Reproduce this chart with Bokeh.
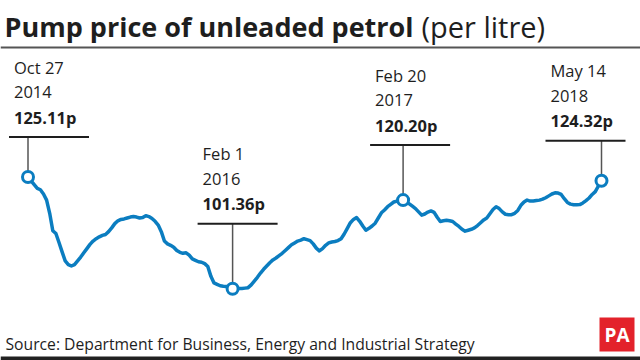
import pandas as pd
from bokeh.plotting import figure
from bokeh.models import Range1d, Label, Span, ColumnDataSource
from bokeh.embed import file_html
from bokeh.resources import INLINE

# ---- data: weekly pump price of unleaded petrol (pence per litre) ----
start_date = "2014-10-27"
prices_2014 = [125.11, 124.3, 123.5, 122.7, 122.4, 121.5, 120.2, 117.4, 113.7, 113.1]
prices_2015 = [111.2, 109.2, 107.3, 106.5, 106.2, 106.5, 107.3, 108.1, 109.0, 109.9,
               110.8, 111.5, 112.0, 112.4, 112.7, 112.9, 113.5, 114.3, 115.2, 115.8,
               116.1, 116.2, 116.4, 116.6, 116.7, 116.6, 116.4, 116.5, 116.9, 116.7,
               116.3, 115.7, 114.9, 113.5, 111.5, 110.9, 110.6, 110.2, 109.5, 109.1,
               108.9, 109.0, 108.5, 107.7, 107.4, 107.1, 107.0, 106.7, 106.1, 104.0,
               102.6, 102.3]
prices_2016 = [102.0, 101.9, 101.85, 101.6, 101.36, 101.4, 101.4, 101.4, 101.5, 101.6,
               102.2, 103.0, 103.8, 104.7, 105.5, 106.2, 106.9, 107.5, 107.9, 108.4,
               108.9, 109.5, 110.1, 110.7, 111.1, 111.5, 111.7, 112.0, 111.8, 111.6,
               110.9, 110.0, 109.4, 109.9, 110.6, 111.1, 111.3, 111.4, 111.6, 112.0,
               113.0, 114.2, 115.4, 116.1, 116.5, 115.7, 114.7, 113.8, 114.2, 114.7,
               115.3, 116.4]
prices_2017 = [117.5, 118.1, 118.8, 119.3, 119.8, 120.0, 120.1, 120.20, 119.8, 119.4,
               118.9, 118.4, 117.7, 117.0, 117.25, 117.65, 117.9, 117.6, 116.55, 115.65,
               115.8, 115.9, 115.8, 115.65, 115.1, 114.6, 114.0, 113.6, 113.8, 114.0,
               114.3, 114.8, 115.4, 116.0, 116.4, 117.3, 118.2, 118.8, 118.4, 117.7,
               117.2, 117.1, 117.1, 117.4, 118.0, 119.1, 119.8, 120.2, 120.0, 120.0,
               120.1, 120.2]
prices_2018 = [120.4, 120.7, 121.1, 121.5, 121.75, 121.7, 121.4, 120.5, 119.7, 119.35,
               119.2, 119.2, 119.25, 119.6, 120.1, 120.65, 121.4, 122.0, 123.2, 124.32]

ann_dates = ["2014-10-27", "2016-02-01", "2017-02-20", "2018-05-14"]
ann_values = [125.11, 101.36, 120.20, 124.32]
ann_day = ["Oct 27", "Feb 1", "Feb 20", "May 14"]
ann_year = ["2014", "2016", "2017", "2018"]
ann_price = ["125.11p", "101.36p", "120.20p", "124.32p"]

title_bold = "Pump price of unleaded petrol"
title_light = "(per litre)"
source_text = "Source: Department for Business, Energy and Industrial Strategy"

prices = prices_2014 + prices_2015 + prices_2016 + prices_2017 + prices_2018
dates = pd.date_range(start_date, periods=len(prices), freq="7D")

# ---- layout (pixel geometry) ----
W, H = 640, 360
PX_PER_DAY = 0.44286
X_ORIGIN_PX = 27.5      # px position of the first week
PX_PER_P = 4.707
Y_ORIGIN_PX = 176.5     # px from top of the first value
MS_DAY = 86400000.0

t0 = dates[0].value / 1e6
x_start = t0 - X_ORIGIN_PX / PX_PER_DAY * MS_DAY
x_end = x_start + W / PX_PER_DAY * MS_DAY
y_top = prices[0] + Y_ORIGIN_PX / PX_PER_P
y_bottom = y_top - H / PX_PER_P


def xpx(px):
    return x_start + px / PX_PER_DAY * MS_DAY


def ypx(py):
    return y_top - py / PX_PER_P


def px_of(ms):
    return (ms - x_start) / MS_DAY * PX_PER_DAY


def py_of(v):
    return (y_top - v) * PX_PER_P


FONT = "Open Sans"
BLUE = "#0b7dc0"
INK = "#1e1e1e"

p = figure(width=W, height=H, output_backend="svg", toolbar_location=None,
           x_range=Range1d(x_start, x_end), y_range=Range1d(y_bottom, y_top),
           x_axis_location=None, y_axis_location=None, min_border=0,
           outline_line_color=None, background_fill_color="white",
           border_fill_color="white")
p.grid.visible = False

# title
p.add_layout(Label(x=xpx(4), y=ypx(26), text=title_bold, text_font=FONT,
                   text_font_style="bold", text_font_size="27px",
                   text_color=INK, text_baseline="alphabetic"))
p.add_layout(Label(x=xpx(421), y=ypx(26), text=title_light, text_font=FONT,
                   text_font_size="29px", text_color=INK,
                   text_baseline="alphabetic"))
p.add_layout(Span(location=ypx(47), dimension="width", line_color="#555555",
                  line_width=2))

# main line
src = ColumnDataSource(dict(date=dates, price=prices))
p.line("date", "price", source=src, line_color=BLUE, line_width=3.5,
       line_join="round", line_cap="round")

# annotations
gaps = [40, 65, 55, 40]
bar_left = [-19, -35, -33, -56]
BAR_LEN = 80
for d, v, l1, l2, l3, g, bl in zip(ann_dates, ann_values, ann_day, ann_year,
                                   ann_price, gaps, bar_left):
    ms = pd.Timestamp(d).value / 1e6
    px = px_of(ms)
    py = py_of(v)
    bar_py = py - g
    p.segment(x0=[ms], y0=[ypx(bar_py)], x1=[ms], y1=[v],
              line_color="#555555", line_width=1.5)
    p.segment(x0=[xpx(px + bl)], y0=[ypx(bar_py)], x1=[xpx(px + bl + BAR_LEN)],
              y1=[ypx(bar_py)], line_color=INK, line_width=2)
    tx = xpx(px + bl + 5)
    p.add_layout(Label(x=tx, y=ypx(bar_py - 70), text=l1, text_font=FONT,
                       text_font_size="16.5px", text_color=INK,
                       text_baseline="middle"))
    p.add_layout(Label(x=tx, y=ypx(bar_py - 45), text=l2, text_font=FONT,
                       text_font_size="16.5px", text_color=INK,
                       text_baseline="middle"))
    p.add_layout(Label(x=tx, y=ypx(bar_py - 20), text=l3, text_font=FONT,
                       text_font_style="bold", text_font_size="16.5px",
                       text_color=INK, text_baseline="middle"))

p.scatter(x=pd.to_datetime(ann_dates), y=ann_values, size=11,
          fill_color="white", line_color=BLUE, line_width=3)

# footer
p.add_layout(Label(x=xpx(5), y=ypx(343), text=source_text, text_font=FONT,
                   text_font_size="15.7px", text_color=INK,
                   text_baseline="middle"))
p.quad(left=[xpx(599)], right=[xpx(634)], top=[ypx(317)], bottom=[ypx(351)],
       fill_color="#e3222b", line_color=None)
p.add_layout(Label(x=xpx(616.5), y=ypx(334), text="PA", text_font=FONT,
                   text_font_style="bold", text_font_size="19px",
                   text_color="white", text_align="center",
                   text_baseline="middle"))
p.add_layout(Span(location=ypx(358), dimension="width", line_color="#222222",
                  line_width=4))

open("out.html", "w").write(file_html(p, INLINE))
